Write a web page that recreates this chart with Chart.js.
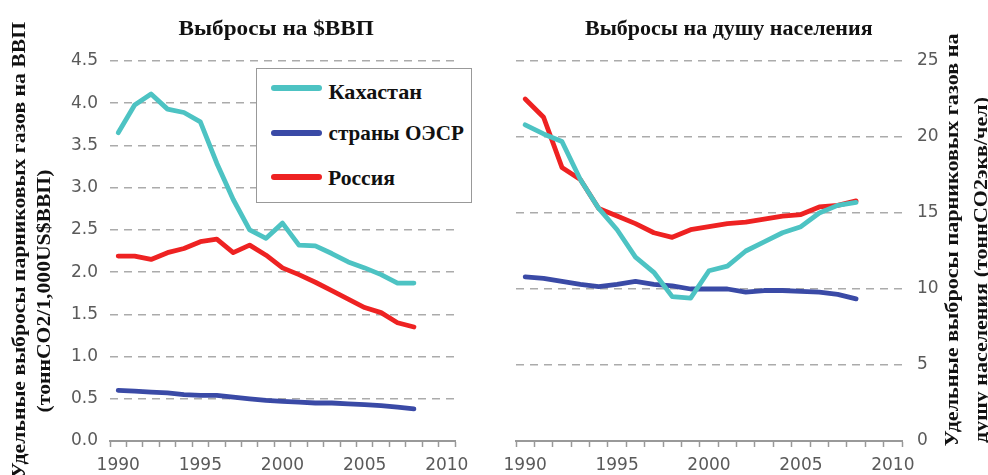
<!DOCTYPE html>
<html><head><meta charset="utf-8">
<script src="https://cdn.jsdelivr.net/npm/chart.js@4"></script>
<style>
html,body{margin:0;padding:0;background:#fff;}
#wrap{position:relative;width:988px;height:475px;overflow:hidden;background:#fff;}
canvas{position:absolute;top:0;}
.t{position:absolute;white-space:nowrap;font-family:"Liberation Serif","Times New Roman",serif;font-weight:bold;color:#111;line-height:1;}
.leg{position:absolute;left:256px;top:68px;width:214px;height:133px;border:1.5px solid #999;background:#fff;}
.sw{position:absolute;height:6px;border-radius:3px;}
</style></head>
<body><div id="wrap">
<canvas id="c1" width="480" height="475" style="left:0"></canvas>
<canvas id="c2" width="508" height="475" style="left:480px"></canvas>
</div>
<script>
const years = [1990,1991,1992,1993,1994,1995,1996,1997,1998,1999,2000,2001,2002,2003,2004,2005,2006,2007,2008,2009,2010];
const seriesNames = ["Кахастан","страны ОЭСР","Россия"];
const kzGdp   = [3.65,3.98,4.11,3.93,3.89,3.78,3.29,2.86,2.50,2.40,2.58,2.32,2.31,2.22,2.12,2.05,1.97,1.87,1.87];
const oecdGdp = [0.60,0.59,0.58,0.57,0.55,0.54,0.54,0.52,0.50,0.48,0.47,0.46,0.45,0.45,0.44,0.43,0.42,0.40,0.38];
const ruGdp   = [2.19,2.19,2.15,2.23,2.28,2.36,2.39,2.23,2.32,2.20,2.05,1.97,1.88,1.78,1.68,1.58,1.52,1.40,1.35];
const kzCap   = [20.8,20.2,19.7,17.2,15.3,13.9,12.1,11.1,9.5,9.4,11.2,11.5,12.5,13.1,13.7,14.1,15.0,15.5,15.7];
const oecdCap = [10.8,10.7,10.5,10.3,10.15,10.3,10.5,10.3,10.2,10.0,10.0,10.0,9.8,9.9,9.9,9.85,9.8,9.65,9.35];
const ruCap   = [22.5,21.3,18.0,17.2,15.3,14.8,14.3,13.7,13.4,13.9,14.1,14.3,14.4,14.6,14.8,14.9,15.4,15.5,15.8];
const gdpTicks = [0,0.5,1,1.5,2,2.5,3,3.5,4,4.5];
const capTicks = [0,5,10,15,20,25];
const titles = ["Выбросы на $ВВП","Выбросы на душу населения"];
const leftAxisTitle = ["Удельные выбросы парниковых газов на ВВП","(тоннCO2/1,000US$ВВП)"];
const rightAxisTitle = ["Удельные выбросы парниковых газов на","душу населения (тоннCO2экв/чел)"];
const colors = ["#4DC3C3","#3A4AA6","#EE2222"];

const tickFont = {family:"DejaVu Sans", size:17};
const tickColor = "#5a5a5a";

function ds(label, data, color){
  return {label, data, borderColor:color, backgroundColor:color, borderWidth:4.8, pointRadius:0,
          tension:0, borderJoinStyle:'round', borderCapStyle:'round', fill:false};
}
function xScale(){
  return {
    type:'category', offset:true,
    grid:{offset:true, drawOnChartArea:false, drawTicks:true, tickLength:6, tickColor:'#999', tickWidth:1.5},
    border:{display:true, color:'#999', width:2},
    ticks:{autoSkip:false, maxRotation:0, minRotation:0, padding:8, color:tickColor, font:tickFont,
      callback:(v,i)=> years[i]%5===0 ? String(years[i]) : ''},
    afterFit:(s)=>{s.height=34;}
  };
}
function yScale(pos, max, step, ticksArr, width, pad, dec){
  return {
    position:pos, min:0, max:max,
    grid:{drawTicks:false, color:'#ABABAB', lineWidth:1.6},
    border:{display:false, dash:[8,6]},
    afterBuildTicks:(s)=>{s.ticks = ticksArr.map(v=>({value:v}));},
    ticks:{padding:pad, color:tickColor, font:tickFont, callback:(v)=> v.toFixed(dec)},
    afterFit:(s)=>{s.width=width;}
  };
}
const common = {responsive:false, animation:false, devicePixelRatio:1,
  plugins:{legend:{display:false}, title:{display:false}, tooltip:{enabled:false}}};

new Chart(document.getElementById('c1'), {
  type:'line',
  data:{labels:years, datasets:[ds(seriesNames[0],kzGdp,colors[0]), ds(seriesNames[1],oecdGdp,colors[1]), ds(seriesNames[2],ruGdp,colors[2])]},
  options:Object.assign({}, common, {
    layout:{padding:{top:61,left:0,right:25,bottom:0}},
    scales:{x:xScale(), y:yScale('left',4.5,0.5,gdpTicks,110,12,1)}
  })
});
new Chart(document.getElementById('c2'), {
  type:'line',
  data:{labels:years, datasets:[ds(seriesNames[0],kzCap,colors[0]), ds(seriesNames[1],oecdCap,colors[1]), ds(seriesNames[2],ruCap,colors[2])]},
  options:Object.assign({}, common, {
    layout:{padding:{top:61,left:36,right:0,bottom:0}},
    scales:{x:xScale(), y:yScale('right',25,5,capTicks,86,15,0)}
  })
});

const wrap = document.getElementById('wrap');
function addText(txt, cx, cy, size, targetLen, rotate){
  const el = document.createElement('div');
  el.className='t'; el.textContent=txt; el.style.fontSize=size+'px';
  wrap.appendChild(el);
  const w = el.offsetWidth, h = el.offsetHeight;
  el.style.left=(cx-w/2)+'px'; el.style.top=(cy-h/2)+'px';
  const r = targetLen/w;
  el.style.transform = (rotate?'rotate(-90deg) ':'')+'scaleX('+r.toFixed(3)+')';
  return el;
}
addText(titles[0], 275.5, 27.5, 20, 195, false);
addText(titles[1], 729, 27.5, 20, 288, false);
addText(leftAxisTitle[0], 18.5, 250, 18, 456, true);
addText(leftAxisTitle[1], 44, 291, 18, 243, true);
addText(rightAxisTitle[0], 952, 240, 18, 413, true);
addText(rightAxisTitle[1], 981, 270, 18, 346, true);

const leg = document.createElement('div'); leg.className='leg'; wrap.appendChild(leg);
const swY=[88,133,177], txY=[92.5,133,178.5], txW=[94,135,67];
for(let i=0;i<3;i++){
  const s=document.createElement('div'); s.className='sw';
  s.style.left='271px'; s.style.width='51px'; s.style.top=(swY[i]-3)+'px'; s.style.background=colors[i];
  wrap.appendChild(s);
  addText(seriesNames[i], 328+txW[i]/2, txY[i], 21, txW[i], false);
}
</script>
</body></html>
